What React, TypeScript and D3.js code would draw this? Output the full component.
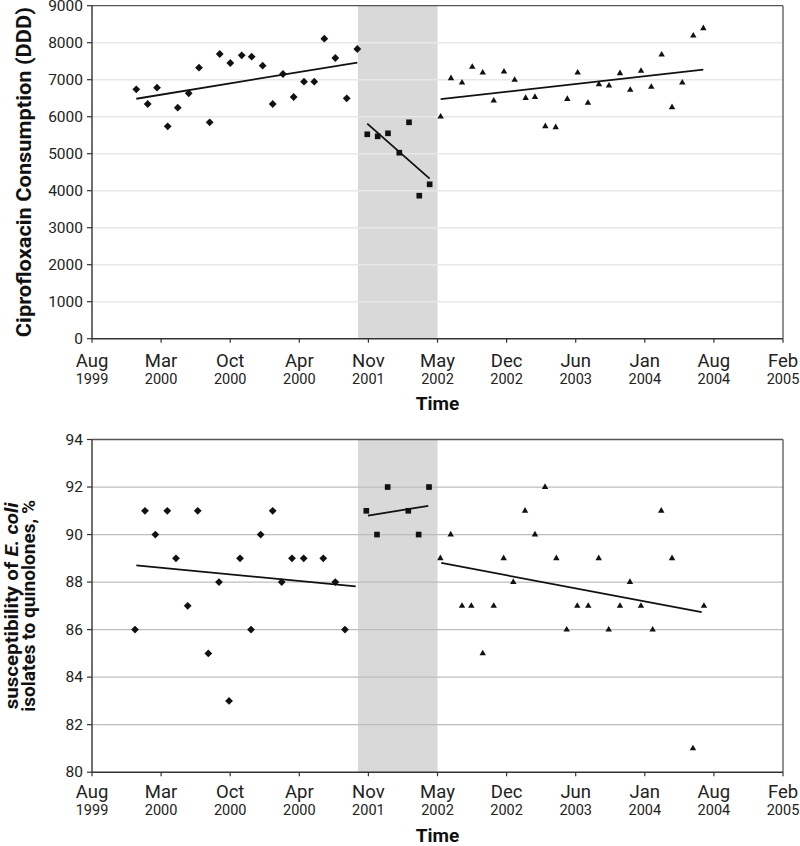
import React, { useEffect } from "react";
import * as d3 from "d3";

// ---------- axis labels ----------
const monthLabels = ["Aug", "Mar", "Oct", "Apr", "Nov", "May", "Dec", "Jun", "Jan", "Aug", "Feb"];
const yearLabels = ["1999", "2000", "2000", "2000", "2001", "2002", "2002", "2003", "2004", "2004", "2005"];
// tick positions in months after Aug 1999
const tickMonths = [0, 6.6, 13.2, 19.8, 26.4, 33, 39.6, 46.2, 52.8, 59.4, 66];
const shadeStart = 25.4;
const shadeEnd = 33.0;

// ---------- top chart: ciprofloxacin consumption (DDD) ----------
const ciproPreX = [4.23, 5.32, 6.21, 7.23, 8.19, 9.24, 10.22, 11.24, 12.2, 13.21, 14.3, 15.25, 16.3, 17.26, 18.24, 19.26, 20.25, 21.23, 22.19, 23.24, 24.33, 25.34];
const ciproPreY = [6741, 6343, 6784, 5741, 6243, 6632, 7324, 5849, 7695, 7451, 7659, 7622, 7378, 6343, 7154, 6532, 6946, 6946, 8108, 7586, 6497, 7830];
const ciproMidX = [26.29, 27.29, 28.27, 29.35, 30.28, 31.26, 32.25];
const ciproMidY = [5524, 5470, 5551, 5027, 5849, 3865, 4173];
const ciproPostX = [33.3, 34.29, 35.34, 36.32, 37.32, 38.37, 39.35, 40.37, 41.42, 42.31, 43.3, 44.29, 45.4, 46.39, 47.37, 48.42, 49.38, 50.43, 51.41, 52.44, 53.42, 54.41, 55.4, 56.38, 57.43, 58.39];
const ciproPostY = [6000, 7038, 6919, 7343, 7189, 6432, 7216, 6992, 6505, 6532, 5741, 5714, 6478, 7189, 6370, 6876, 6838, 7173, 6722, 7235, 6803, 7676, 6254, 6919, 8189, 8389];
const ciproTrendExtents = [[4.23, 25.34], [26.29, 32.25], [33.3, 58.39]];
const ciproTicks = [0, 1000, 2000, 3000, 4000, 5000, 6000, 7000, 8000, 9000];

// ---------- bottom chart: susceptibility of E. coli (%) ----------
const suscPreX = [4.11, 5.06, 6.05, 7.19, 8.02, 9.14, 10.1, 11.11, 12.13, 13.09, 14.14, 15.19, 16.11, 17.26, 18.12, 19.1, 20.22, 22.09, 23.24, 24.16];
const suscPreY = [86, 91, 90, 91, 89, 87, 91, 85, 88, 83, 89, 86, 90, 91, 88, 89, 89, 89, 88, 86];
const suscMidX = [26.2, 27.22, 28.24, 30.21, 31.2, 32.19];
const suscMidY = [91, 90, 92, 91, 90, 92];
const suscPostX = [33.27, 34.26, 35.34, 36.23, 37.32, 38.37, 39.32, 40.24, 41.36, 42.31, 43.27, 44.35, 45.34, 46.35, 47.4, 48.4, 49.35, 50.43, 51.38, 52.43, 53.55, 54.37, 55.4, 57.4, 58.45];
const suscPostY = [89, 90, 87, 87, 85, 87, 89, 88, 91, 90, 92, 89, 86, 87, 87, 89, 86, 87, 88, 87, 86, 91, 89, 81, 87];
const suscTrendExtents = [[4.23, 25.19], [26.36, 32.12], [33.36, 58.23]];
const suscTicks = [80, 82, 84, 86, 88, 90, 92, 94];

type Shape = "diamond" | "square" | "triangle";
type Series = { xs: number[]; ys: number[]; shape: Shape; extent: number[] };

const FONT = "Roboto, 'Noto Sans', sans-serif";
const LEFT = 92;
const RIGHT = 783;

const x = d3.scaleLinear().domain([0, 66]).range([LEFT, RIGHT]);

function fit(xs: number[], ys: number[]) {
  const mx = d3.mean(xs)!;
  const my = d3.mean(ys)!;
  let sxy = 0, sxx = 0;
  xs.forEach((v, i) => {
    sxy += (v - mx) * (ys[i] - my);
    sxx += (v - mx) * (v - mx);
  });
  const b = sxy / sxx;
  return (t: number) => my + b * (t - mx);
}

function markerPath(shape: Shape, size: number) {
  if (shape === "diamond") {
    const r = size;
    return `M0,${-r}L${r},0L0,${r}L${-r},0Z`;
  }
  if (shape === "square") return d3.symbol(d3.symbolSquare, 32)()!;
  return d3.symbol(d3.symbolTriangle, 18)()!;
}

type PanelProps = {
  top: number;
  bottom: number;
  domain: [number, number];
  ticks: number[];
  series: Series[];
  gridColor: string;
  gridWidth: number;
  diamondR: number;
  monthDy: number;
  yearDy: number;
  timeDy: number;
  title: React.ReactNode;
};

function Panel(p: PanelProps) {
  const y = d3.scaleLinear().domain(p.domain).range([p.bottom, p.top]);
  const line = d3.line<number[]>().x((d) => x(d[0])).y((d) => y(d[1]));
  return (
    <g>
      {/* shaded intervention period */}
      <rect x={x(shadeStart)} y={p.top} width={x(shadeEnd) - x(shadeStart)} height={p.bottom - p.top} fill="#d9d9d9" />
      {/* gridlines */}
      {p.ticks.slice(1, -1).map((t) => (
        <line key={t} x1={LEFT} x2={RIGHT} y1={y(t)} y2={y(t)} stroke={p.gridColor} strokeWidth={p.gridWidth} />
      ))}
      {/* frame */}
      <line x1={LEFT} x2={RIGHT} y1={p.top} y2={p.top} stroke="#555" strokeWidth={1.3} />
      <line x1={RIGHT} x2={RIGHT} y1={p.top} y2={p.bottom} stroke="#555" strokeWidth={1.3} />
      {/* markers */}
      {p.series.map((s, si) => (
        <g key={si}>
          {s.xs.map((v, i) => (
            <path key={i} d={markerPath(s.shape, p.diamondR)} transform={`translate(${x(v)},${y(s.ys[i])})`} fill="#111" />
          ))}
        </g>
      ))}
      {/* trendlines */}
      {p.series.map((s, si) => {
        const f = fit(s.xs, s.ys);
        const pts = s.extent.map((t) => [t, f(t)]);
        return <path key={"t" + si} d={line(pts)!} fill="none" stroke="#111" strokeWidth={1.8} />;
      })}
      {/* y axis */}
      <line x1={LEFT} x2={LEFT} y1={p.top} y2={p.bottom} stroke="#333" strokeWidth={1.4} />
      {p.ticks.map((t) => (
        <g key={"y" + t}>
          <line x1={LEFT - 5} x2={LEFT} y1={y(t)} y2={y(t)} stroke="#333" strokeWidth={1.2} />
          <text x={LEFT - 9} y={y(t)} textAnchor="end" dominantBaseline="central" fontFamily={FONT} fontSize={15.5} fill="#222">
            {t}
          </text>
        </g>
      ))}
      {/* x axis */}
      <line x1={LEFT} x2={RIGHT} y1={p.bottom} y2={p.bottom} stroke="#333" strokeWidth={1.4} />
      {tickMonths.map((t, i) => (
        <g key={"x" + i}>
          <line x1={x(t)} x2={x(t)} y1={p.bottom} y2={p.bottom + 4} stroke="#333" strokeWidth={1.2} />
          <text x={x(t)} y={p.bottom + p.monthDy} textAnchor="middle" dominantBaseline="central" fontFamily={FONT} fontSize={18.5} fill="#222">
            {monthLabels[i]}
          </text>
          <text x={x(t)} y={p.bottom + p.yearDy} textAnchor="middle" dominantBaseline="central" fontFamily={FONT} fontSize={14.5} fill="#222">
            {yearLabels[i]}
          </text>
        </g>
      ))}
      <text x={(LEFT + RIGHT) / 2} y={p.bottom + p.timeDy} textAnchor="middle" dominantBaseline="central" fontFamily={FONT} fontWeight="bold" fontSize={19} fill="#111">
        Time
      </text>
      {p.title}
    </g>
  );
}

export default function App() {
  useEffect(() => {
    document.body.style.margin = "0";
  }, []);

  const topSeries: Series[] = [
    { xs: ciproPreX, ys: ciproPreY, shape: "diamond", extent: ciproTrendExtents[0] },
    { xs: ciproMidX, ys: ciproMidY, shape: "square", extent: ciproTrendExtents[1] },
    { xs: ciproPostX, ys: ciproPostY, shape: "triangle", extent: ciproTrendExtents[2] },
  ];
  const bottomSeries: Series[] = [
    { xs: suscPreX, ys: suscPreY, shape: "diamond", extent: suscTrendExtents[0] },
    { xs: suscMidX, ys: suscMidY, shape: "square", extent: suscTrendExtents[1] },
    { xs: suscPostX, ys: suscPostY, shape: "triangle", extent: suscTrendExtents[2] },
  ];

  const topTop = 5.7, topBottom = 338.7;
  const botTop = 439.5, botBottom = 772.2;

  return (
    <svg width={800} height={846} style={{ display: "block", background: "#fff" }}>
      <Panel
        top={topTop}
        bottom={topBottom}
        domain={[0, 9000]}
        ticks={ciproTicks}
        series={topSeries}
        gridColor="#e8e8e8"
        gridWidth={1.6}
        diamondR={3.9}
        monthDy={22.5}
        yearDy={41}
        timeDy={64.5}
        title={
          <text
            transform={`translate(24,${(topTop + topBottom) / 2}) rotate(-90)`}
            textAnchor="middle"
            dominantBaseline="central"
            fontFamily={FONT}
            fontWeight="bold"
            fontSize={20}
            textLength={330}
            lengthAdjust="spacingAndGlyphs"
            fill="#111"
          >
            Ciprofloxacin Consumption (DDD)
          </text>
        }
      />
      <Panel
        top={botTop}
        bottom={botBottom}
        domain={[80, 94]}
        ticks={suscTicks}
        series={bottomSeries}
        gridColor="#bdbdbd"
        gridWidth={1.3}
        diamondR={3.9}
        monthDy={19.5}
        yearDy={38.7}
        timeDy={63}
        title={
          <g transform={`translate(0,${(botTop + botBottom) / 2}) rotate(-90)`}>
            <text x={0} y={11} textAnchor="middle" dominantBaseline="central" fontFamily={FONT} fontWeight="bold" fontSize={19} textLength={207} lengthAdjust="spacingAndGlyphs" fill="#111">
              susceptibility of <tspan fontStyle="italic">E. coli</tspan>
            </text>
            <text x={0} y={28} textAnchor="middle" dominantBaseline="central" fontFamily={FONT} fontWeight="bold" fontSize={19} textLength={212} lengthAdjust="spacingAndGlyphs" fill="#111">
              isolates to quinolones, %
            </text>
          </g>
        }
      />
    </svg>
  );
}
